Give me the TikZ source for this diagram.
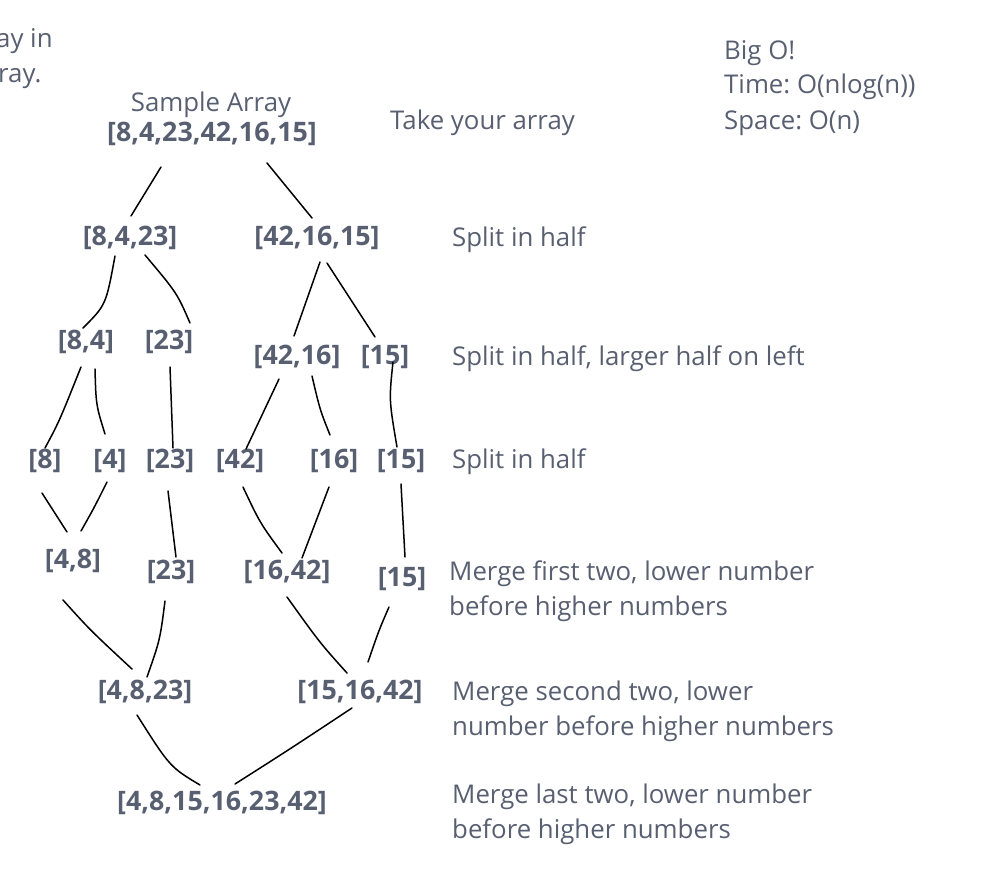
\documentclass[tikz,border=0pt]{standalone}
\usepackage{fontspec}
\setmainfont{Open Sans}
\usetikzlibrary{calc}
\definecolor{tx}{RGB}{88,95,113}
\frenchspacing
\tikzset{
  arr/.style={text=tx,font=\fontsize{26.8}{30}\selectfont\bfseries,inner sep=0pt},
  lbl/.style={text=tx,font=\fontsize{25.8}{30}\selectfont,inner sep=0pt,anchor=base west},
  link/.style={draw=black,line width=1.5pt,line cap=round}
}
\begin{document}
\begin{tikzpicture}[x=1pt,y=-1pt]
\useasboundingbox (0,0) rectangle (986,876);
% cut-off text at left
\node[lbl] (cut1) at (-4,47) {ay in};
\node[lbl] (cut2) at (-2,82) {ray.};
% labels
\node[lbl,anchor=base] (sa) at (211,111) {Sample Array};
\node[lbl] (take) at (390,129) {Take your array};
\node[lbl] (bigo) at (724,59) {Big O!};
\node[lbl] (time) at (724,93) {Time: O(nlog(n))};
\node[lbl] (space) at (724,129) {Space: O(n)};
\node[lbl] (s1) at (452,246) {Split in half};
\node[lbl] (s2) at (452,365) {Split in half, larger half on left};
\node[lbl] (s3) at (452,468) {Split in half};
\node[lbl] (m1a) at (449,580) {Merge first two, lower number};
\node[lbl] (m1b) at (449,615) {before higher numbers};
\node[lbl] (m2a) at (452,700) {Merge second two, lower};
\node[lbl] (m2b) at (452,735) {number before higher numbers};
\node[lbl] (m3a) at (452,803) {Merge last two, lower number};
\node[lbl] (m3b) at (452,838) {before higher numbers};
% arrays
\node[arr] (n0) at (212,134) {[8,4,23,42,16,15]};
\node[arr] (a1) at (130,238) {[8,4,23]};
\node[arr] (a2) at (317,238) {[42,16,15]};
\node[arr] (b1) at (86,342) {[8,4]};
\node[arr] (b2) at (169,342) {[23]};
\node[arr] (b3) at (297,357) {[42,16]};
\node[arr] (b4) at (385,357) {[15]};
\node[arr] (c1) at (45,461) {[8]};
\node[arr] (c2) at (110,461) {[4]};
\node[arr] (c3) at (170,461) {[23]};
\node[arr] (c4) at (240,461) {[42]};
\node[arr] (c5) at (334,461) {[16]};
\node[arr] (c6) at (401,461) {[15]};
\node[arr] (d1) at (73,561) {[4,8]};
\node[arr] (d2) at (171,572) {[23]};
\node[arr] (d3) at (287,572) {[16,42]};
\node[arr] (d4) at (402,579) {[15]};
\node[arr] (e1) at (145,692) {[4,8,23]};
\node[arr] (e2) at (360,692) {[15,16,42]};
\node[arr] (f) at (222,803) {[4,8,15,16,23,42]};
% connectors
\draw[link] ($(n0)+(-51,33)$) -- ($(a1)+(1,-22)$);
\draw[link] ($(n0)+(55,29)$) -- ($(a2)+(-5,-20)$);
\draw[link] ($(a1)+(-15,18)$) .. controls (106,305) .. ($(b1)+(-3,-14)$);
\draw[link] ($(a1)+(15,17)$) .. controls (177,293) .. ($(b2)+(21,-19)$);
\draw[link] ($(a2)+(3,24)$) -- ($(b3)+(-3,-21)$);
\draw[link] ($(a2)+(10,25)$) -- ($(b4)+(-10,-20)$);
\draw[link] ($(b1)+(-5,25)$) .. controls (59,422) .. ($(c1)+(0,-13)$);
\draw[link] ($(b1)+(9,27)$) .. controls (96,405) .. ($(c2)+(-5,-27)$);
\draw[link] ($(b2)+(1,25)$) -- ($(c3)+(3,-13)$);
\draw[link] ($(b3)+(-18,22)$) -- ($(c4)+(6,-12)$);
\draw[link] ($(b3)+(15,19)$) .. controls (320,410) .. ($(c5)+(-4,-26)$);
\draw[link] ($(b4)+(8,5)$) .. controls (389,400) .. ($(c6)+(-4,-14)$);
\draw[link] ($(c1)+(-3,32)$) -- ($(d1)+(-6,-29)$);
\draw[link] ($(c2)+(-3,21)$) .. controls (94,508) .. ($(d1)+(8,-30)$);
\draw[link] ($(c3)+(-2,30)$) -- ($(d2)+(5,-15)$);
\draw[link] ($(c4)+(3,26)$) .. controls (260,523) .. ($(d3)+(-5,-19)$);
\draw[link] ($(c5)+(-5,26)$) -- ($(d3)+(15,-14)$);
\draw[link] ($(c6)+(0,23)$) -- ($(d4)+(3,-22)$);
\draw[link] ($(d1)+(-10,39)$) .. controls (90,630) .. ($(e1)+(-13,-23)$);
\draw[link] ($(d2)+(-6,29)$) .. controls (160,640) .. ($(e1)+(2,-15)$);
\draw[link] ($(d3)+(0,25)$) .. controls (320,643) .. ($(e2)+(-13,-19)$);
\draw[link] ($(d4)+(-13,28)$) .. controls (379,630) .. ($(e2)+(8,-30)$);
\draw[link] ($(e1)+(-8,23)$) .. controls (170,767) .. ($(f)+(-22,-18)$);
\draw[link] ($(e2)+(-8,16)$) .. controls (290,749) .. ($(f)+(13,-19)$);
\end{tikzpicture}
\end{document}
